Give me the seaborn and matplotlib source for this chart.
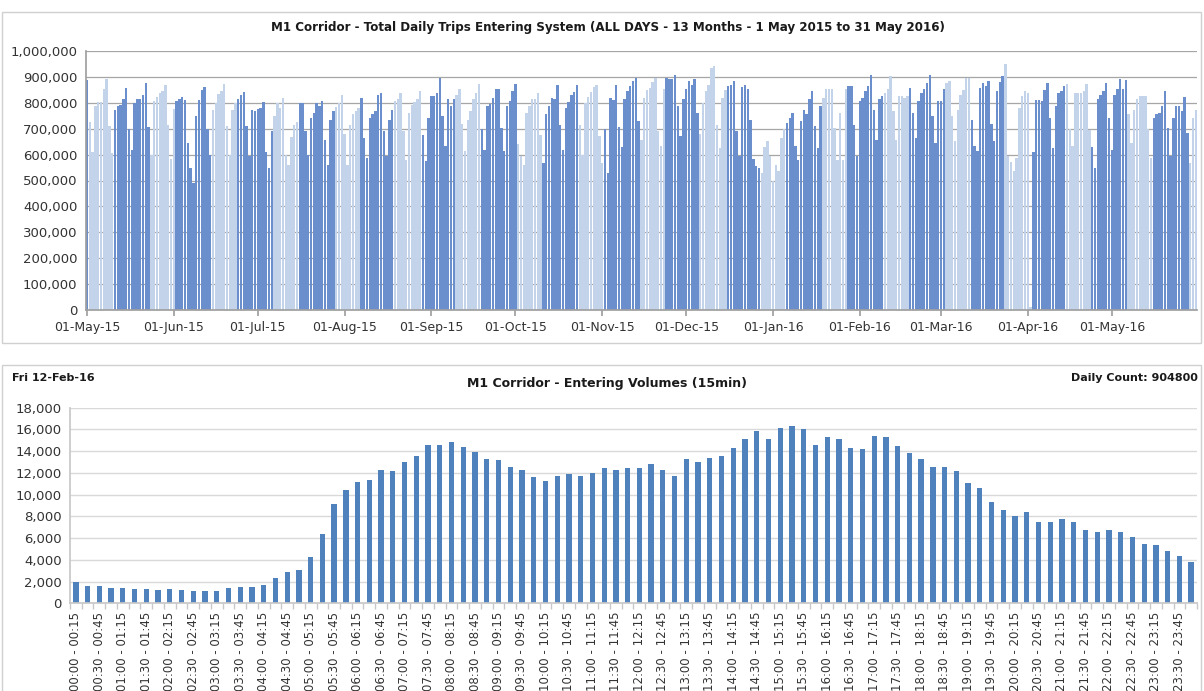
import numpy as np
import pandas as pd
import matplotlib
matplotlib.use("Agg")
import matplotlib.pyplot as plt
import seaborn as sns
from matplotlib.patches import Rectangle
from matplotlib.ticker import FuncFormatter

# daily trips (thousands), 1 May 2015 - 31 May 2016, one list per month
may15 = [888, 725, 610, 787, 802, 805, 854, 890, 710, 606, 771, 787, 790, 815, 858, 697, 617, 800, 815, 815,
         832, 877, 707, 600, 806, 823, 839, 845, 867, 716, 583]
jun15 = [777, 806, 815, 823, 810, 645, 550, 490, 748, 810, 850, 860, 697, 600, 774, 800, 835, 845, 871, 710,
         600, 774, 800, 815, 830, 841, 710, 593, 774, 770]
jul15 = [775, 780, 805, 610, 548, 690, 750, 800, 780, 820, 600, 560, 669, 714, 727, 798, 800, 690, 600, 742,
         761, 800, 787, 806, 658, 561, 733, 770, 785, 800, 830]
aug15 = [680, 560, 716, 755, 768, 781, 819, 664, 587, 742, 755, 768, 832, 839, 690, 593, 735, 774, 806, 815,
         839, 690, 580, 760, 790, 805, 815, 845, 677, 574, 742]
sep15 = [826, 828, 839, 897, 748, 632, 815, 787, 815, 830, 852, 720, 613, 735, 768, 815, 839, 871, 697, 619,
         787, 794, 819, 852, 854, 703, 613, 787, 806, 845]
oct15 = [871, 639, 593, 560, 761, 787, 813, 815, 839, 677, 568, 755, 787, 819, 813, 867, 716, 617, 781, 803,
         832, 841, 867, 716, 600, 800, 823, 840, 860, 867, 673]
nov15 = [566, 700, 528, 817, 810, 869, 708, 630, 813, 845, 864, 884, 897, 729, 658, 819, 849, 858, 880, 897,
         690, 632, 854, 897, 890, 893, 906, 787, 671, 813]
dec15 = [854, 884, 870, 890, 760, 680, 800, 845, 870, 935, 944, 716, 626, 819, 850, 864, 868, 884, 690, 593,
         862, 867, 854, 735, 583, 555, 550, 529, 630, 651, 593]
jan16 = [500, 561, 535, 664, 697, 722, 742, 761, 632, 580, 729, 774, 755, 813, 845, 710, 626, 787, 819, 854,
         854, 854, 703, 580, 761, 580, 854, 864, 864, 716, 593]
feb16 = [806, 819, 845, 864, 909, 774, 658, 813, 826, 839, 852, 905, 768, 658, 826, 826, 820, 826, 858, 761,
         664, 806, 839, 852, 877, 909, 748, 645, 806]
mar16 = [806, 852, 877, 884, 748, 651, 774, 832, 850, 897, 897, 735, 632, 613, 858, 877, 864, 884, 720, 651,
         845, 880, 903, 948, 593, 570, 535, 587, 781, 826, 845]
apr16 = [839, 13, 611, 811, 811, 808, 849, 875, 740, 626, 787, 839, 845, 864, 871, 700, 632, 839, 839, 839,
         845, 871, 695, 631, 547, 813, 832, 845, 877, 740]
may16 = [619, 830, 854, 890, 854, 888, 755, 645, 774, 813, 826, 826, 828, 697, 587, 742, 755, 761, 787, 845,
         703, 593, 742, 787, 787, 768, 823, 684, 568, 742, 774]

# 15 minute entering volumes, Fri 12-Feb-16
vol15 = [1990, 1630, 1600, 1440, 1440, 1350, 1290, 1230, 1290, 1230, 1170, 1170, 1170, 1410, 1470, 1470,
         1690, 2300, 2880, 3070, 4230, 6380, 9140, 10430, 11200, 11350, 12270, 12180,
         13040, 13590, 14570, 14570, 14880, 14360, 13900, 13310, 13190, 12550, 12240, 11660, 11260, 11720,
         11900, 11750, 11990, 12490, 12240, 12420, 12420, 12790, 12240, 11750, 13250, 13040, 13410, 13560,
         14260, 15150, 15860, 15090, 16100, 16350,
         16010, 14570, 15280, 15090, 14330, 14230, 15370, 15280, 14450, 13800, 13250, 12580, 12580, 12180,
         11100, 10580, 9330, 8590, 8040, 8440, 7450, 7450, 7730, 7490, 6780, 6530, 6720, 6530, 6140, 5490,
         5370, 4850, 4360, 3830]

sns.set_theme(style="white")
plt.rcParams['font.family'] = ['DejaVu Sans']

daily = np.concatenate([may15, jun15, jul15, aug15, sep15, oct15, nov15, dec15,
                        jan16, feb16, mar16, apr16, may16]) * 1000
dates = pd.date_range("2015-05-01", "2016-05-31", freq="D")
df = pd.DataFrame({"day": np.arange(len(dates)), "trips": daily})
# the source picture shows darker / lighter bands of bars
df["band"] = np.where(((df["day"] - 10) % 21.8) < 12.6, "dark", "light")

times = pd.date_range("2016-02-12 00:00", periods=97, freq="15min")
slots = [f"{a:%H:%M} - {b:%H:%M}" for a, b in zip(times[:-1], times[1:])]
df2 = pd.DataFrame({"slot": slots, "vol": vol15})

W, H = 1204, 691
fig = plt.figure(figsize=(W / 100, H / 100), dpi=100)

# chart area frames
fig.patches.append(Rectangle((2 / W, 1 - 343 / H), 1199 / W, 331 / H, transform=fig.transFigure,
                             fill=False, edgecolor="#d0d0d0", lw=1))
fig.patches.append(Rectangle((2 / W, -0.05), 1199 / W, 1 - 365 / H + 0.05, transform=fig.transFigure,
                             fill=False, edgecolor="#d0d0d0", lw=1))

tick_col = "#333333"

# ---- top chart
ax1 = fig.add_axes([85.6 / W, 1 - 310 / H, (1197.2 - 85.6) / W, (310 - 51) / H])
sns.barplot(data=df, x="day", y="trips", hue="band", palette={"dark": "#6a8fcc", "light": "#c3d3ea"},
            dodge=False, width=0.82, saturation=1, linewidth=0, legend=False, ax=ax1)
ax1.set_xlim(-0.5, len(df) - 0.5)
ax1.set_ylim(0, 1000000)
ax1.set_yticks(np.arange(0, 1000001, 100000))
ax1.yaxis.set_major_formatter(FuncFormatter(lambda v, p: f"{v:,.0f}"))
mstart = np.where(dates.is_month_start)[0]
ax1.set_xticks(mstart)
ax1.set_xticklabels([d.strftime("%d-%b-%y") for d in dates[mstart]])
ax1.set_xlabel("")
ax1.set_ylabel("")
ax1.yaxis.grid(True, color="#a6a6a6", lw=0.9)
ax1.set_axisbelow(True)
for s in ["top", "right"]:
    ax1.spines[s].set_visible(False)
for s in ["left", "bottom"]:
    ax1.spines[s].set_color("#a0a0a0")
ax1.tick_params(axis="y", labelsize=9.5, colors=tick_col, length=0, pad=6)
ax1.tick_params(axis="x", labelsize=9, colors=tick_col, length=4, color="#a0a0a0", pad=4, bottom=True)

fig.text(608 / W, 1 - 28 / H,
         "M1 Corridor - Total Daily Trips Entering System (ALL DAYS - 13 Months - 1 May 2015 to 31 May 2016)",
         ha="center", va="center", fontsize=8.6, fontweight="bold", color="#1a1a1a")

# ---- bottom chart
ax2 = fig.add_axes([70 / W, 1 - 603.3 / H, (1197 - 70) / W, (603.3 - 407.7) / H])
sns.barplot(data=df2, x="slot", y="vol", color="#4f81bd", width=0.45, saturation=1, linewidth=0, ax=ax2)
ax2.set_xlim(-0.5, len(df2) - 0.5)
ax2.set_ylim(0, 18000)
ax2.set_yticks(np.arange(0, 18001, 2000))
ax2.yaxis.set_major_formatter(FuncFormatter(lambda v, p: f"{v:,.0f}"))
ax2.set_xticks(np.arange(0, len(df2), 2))
ax2.set_xticklabels(slots[::2], rotation=90)
ax2.set_xticks(np.arange(-0.5, len(df2), 1), minor=True)
ax2.set_xlabel("")
ax2.set_ylabel("")
ax2.yaxis.grid(True, color="#d9d9d9", lw=1)
ax2.set_axisbelow(True)
for s in ["top", "right"]:
    ax2.spines[s].set_visible(False)
for s in ["left", "bottom"]:
    ax2.spines[s].set_color("#c8c8c8")
ax2.tick_params(axis="y", labelsize=9.5, colors=tick_col, length=0, pad=6)
ax2.tick_params(axis="x", which="major", labelsize=8.5, colors=tick_col, length=0, pad=6)
ax2.tick_params(axis="x", which="minor", length=4, color="#c8c8c8", bottom=True)

fig.text(12 / W, 1 - 378 / H, "Fri 12-Feb-16", ha="left", va="center", fontsize=8, fontweight="bold",
         color="#1a1a1a")
fig.text(607 / W, 1 - 383 / H, "M1 Corridor - Entering Volumes (15min)", ha="center", va="center",
         fontsize=9, fontweight="bold", color="#1a1a1a")
fig.text(1198 / W, 1 - 378 / H, "Daily Count: 904800", ha="right", va="center", fontsize=8,
         fontweight="bold", color="#1a1a1a")

fig.savefig("out.png", dpi=100)
